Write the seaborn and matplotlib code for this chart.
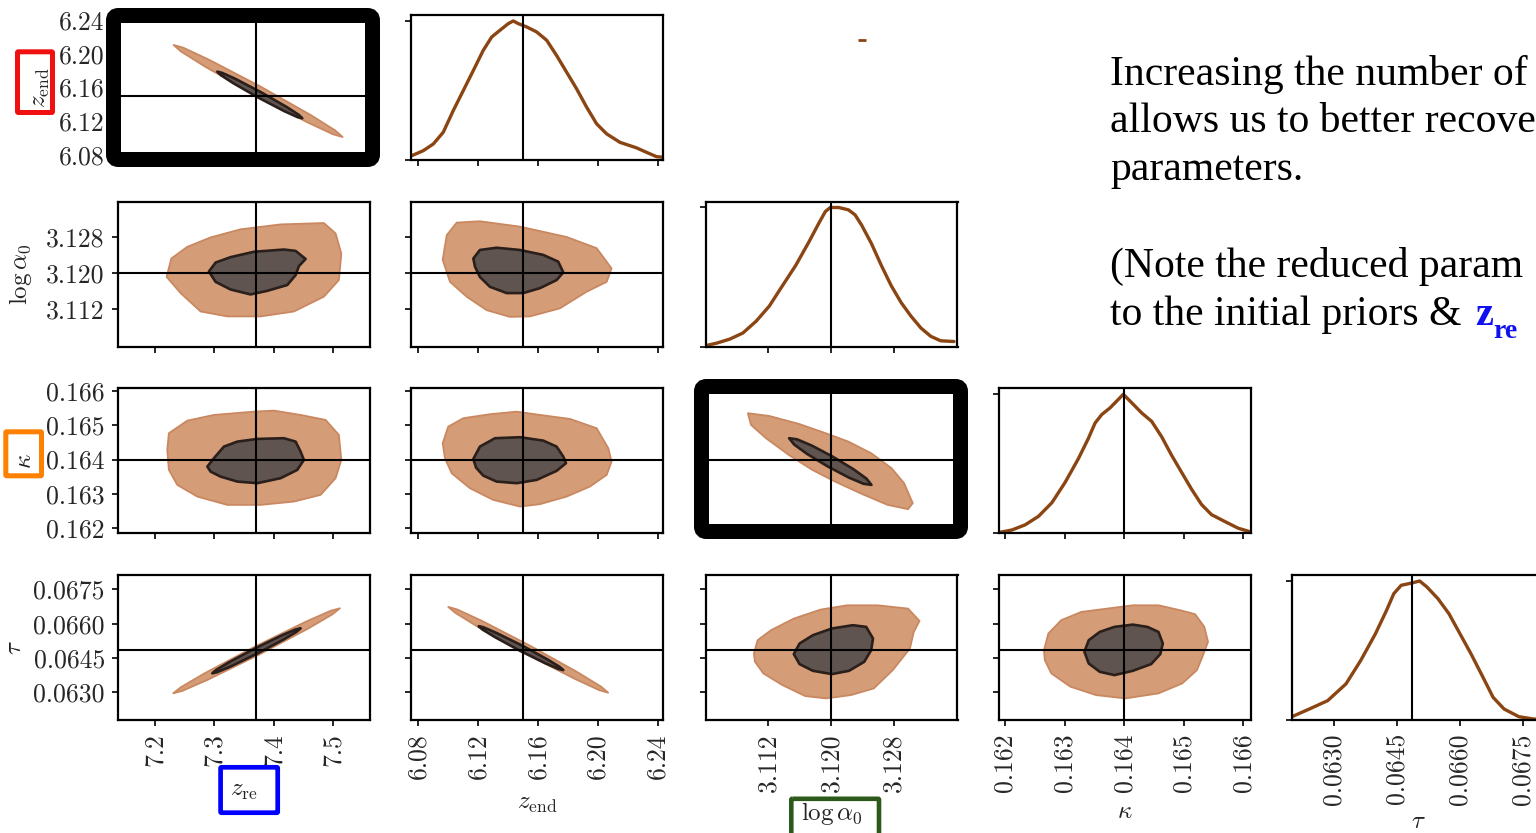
import seaborn as sns
import matplotlib.pyplot as plt
from matplotlib.patches import FancyBboxPatch

# ---- chart values ----------------------------------------------------------
LABELS = [r'$z_{\rm re}$', r'$z_{\rm end}$', r'$\log\alpha_0$', r'$\kappa$', r'$\tau$']
TRUTH = [7.37, 6.15, 3.12, 0.164, 0.06485]
TICKS = [[7.2, 7.3, 7.4, 7.5],
         [6.08, 6.12, 6.16, 6.20, 6.24],
         [3.112, 3.120, 3.128],
         [0.162, 0.163, 0.164, 0.165, 0.166],
         [0.0630, 0.0645, 0.0660, 0.0675]]
TICK_LABELS = [['7.2', '7.3', '7.4', '7.5'],
               ['6.08', '6.12', '6.16', '6.20', '6.24'],
               ['3.112', '3.120', '3.128'],
               ['0.162', '0.163', '0.164', '0.165', '0.166'],
               ['0.0630', '0.0645', '0.0660', '0.0675']]
XLIMS = [(7.138, 7.5615), (6.075, 6.2436), (3.104, 3.1361), (0.16189, 0.16612), (0.0620, 0.0680)]
YLIMS = [None, (6.0743, 6.2459), (3.1037, 3.1360), (0.16185, 0.16608), (0.061789, 0.068129)]

# 2D contours (95% outer, 68% inner), vertices in data units
ZRE_ZEND_OUTER = [(7.2314, 6.2104), (7.2474, 6.2073), (7.2914, 6.1928), (7.3775, 6.1612), (7.4619, 6.1275),
                  (7.5030, 6.1093), (7.5155, 6.1015), (7.4995, 6.1047), (7.4554, 6.1192), (7.3694, 6.1508),
                  (7.2850, 6.1845), (7.2439, 6.2027)]
ZRE_ZEND_INNER = [(7.3049, 6.1788), (7.3131, 6.1774), (7.3354, 6.1703), (7.3787, 6.1544), (7.4211, 6.1372),
                  (7.4416, 6.1278), (7.4477, 6.1237), (7.4395, 6.1251), (7.4172, 6.1322), (7.3739, 6.1481),
                  (7.3315, 6.1653), (7.3110, 6.1747)]

ZRE_LOGA_OUTER = [(7.2197, 3.1192), (7.2276, 3.1233), (7.2545, 3.1259), (7.2936, 3.1280), (7.3440, 3.1298),
                  (7.4113, 3.1309), (7.4840, 3.1312), (7.5037, 3.1289), (7.5133, 3.1244), (7.5092, 3.1185),
                  (7.4840, 3.1148), (7.4336, 3.1115), (7.3776, 3.1104), (7.3217, 3.1104), (7.2768, 3.1115),
                  (7.2432, 3.1156)]
ZRE_LOGA_INNER = [(7.2908, 3.1204), (7.3020, 3.1224), (7.3272, 3.1236), (7.3664, 3.1248), (7.4168, 3.1253),
                  (7.4365, 3.1250), (7.4533, 3.1232), (7.4420, 3.1216), (7.4365, 3.1196), (7.4225, 3.1174),
                  (7.3889, 3.1161), (7.3608, 3.1153), (7.3272, 3.1164), (7.3020, 3.1181)]

ZRE_KAPPA_OUTER = [(7.2208, 0.164283), (7.2235, 0.164770), (7.2545, 0.165137), (7.2992, 0.165303),
                   (7.3664, 0.165399), (7.4000, 0.165429), (7.4449, 0.165303), (7.4869, 0.165157),
                   (7.5092, 0.164720), (7.5133, 0.163991), (7.5037, 0.163458), (7.4785, 0.162971),
                   (7.4336, 0.162776), (7.3776, 0.162679), (7.3217, 0.162679), (7.2713, 0.162921),
                   (7.2376, 0.163262), (7.2235, 0.163700)]
ZRE_KAPPA_INNER = [(7.2881, 0.163796), (7.2992, 0.164041), (7.3160, 0.164379), (7.3385, 0.164525),
                   (7.3721, 0.164603), (7.4168, 0.164624), (7.4365, 0.164525), (7.4449, 0.164233),
                   (7.4504, 0.163991), (7.4393, 0.163700), (7.4113, 0.163458), (7.3721, 0.163312),
                   (7.3385, 0.163359), (7.3104, 0.163504), (7.2936, 0.163650)]

ZRE_TAU_OUTER = [(7.2309, 0.062956), (7.2464, 0.063065), (7.2897, 0.063559), (7.3744, 0.064639),
                 (7.4577, 0.065789), (7.4984, 0.066410), (7.5109, 0.066673), (7.4954, 0.066564),
                 (7.4522, 0.066070), (7.3675, 0.064990), (7.2842, 0.063840), (7.2434, 0.063219)]
ZRE_TAU_INNER = [(7.2965, 0.063831), (7.3048, 0.063881), (7.3279, 0.064137), (7.3728, 0.064706),
                 (7.4169, 0.065317), (7.4384, 0.065652), (7.4449, 0.065798), (7.4365, 0.065748),
                 (7.4135, 0.065492), (7.3685, 0.064923), (7.3244, 0.064312), (7.3030, 0.063977)]

ZEND_LOGA_OUTER = [(6.0962, 3.1230), (6.0989, 3.1285), (6.1056, 3.1313), (6.1211, 3.1316), (6.1479, 3.1304),
                   (6.1791, 3.1281), (6.1992, 3.1256), (6.2092, 3.1211), (6.2059, 3.1181), (6.1925, 3.1159),
                   (6.1746, 3.1122), (6.1546, 3.1104), (6.1412, 3.1103), (6.1256, 3.1118), (6.1122, 3.1148),
                   (6.1011, 3.1181)]
ZEND_LOGA_INNER = [(6.1167, 3.1233), (6.1211, 3.1252), (6.1323, 3.1257), (6.1479, 3.1252), (6.1635, 3.1241),
                   (6.1735, 3.1226), (6.1769, 3.1202), (6.1724, 3.1185), (6.1613, 3.1167), (6.1501, 3.1156),
                   (6.1390, 3.1156), (6.1278, 3.1170), (6.1211, 3.1192), (6.1178, 3.1215)]

ZEND_KAPPA_OUTER = [(6.0962, 0.164478), (6.0999, 0.164962), (6.1100, 0.165207), (6.1278, 0.165324),
                    (6.1457, 0.165399), (6.1613, 0.165303), (6.1813, 0.165187), (6.1992, 0.164915),
                    (6.2070, 0.164332), (6.2092, 0.163942), (6.2059, 0.163554), (6.1947, 0.163213),
                    (6.1791, 0.162921), (6.1613, 0.162700), (6.1479, 0.162630), (6.1300, 0.162825),
                    (6.1144, 0.163166), (6.1022, 0.163603), (6.0977, 0.164041)]
ZEND_KAPPA_INNER = [(6.1167, 0.164020), (6.1211, 0.164379), (6.1312, 0.164624), (6.1479, 0.164653),
                    (6.1635, 0.164554), (6.1724, 0.164379), (6.1769, 0.164087), (6.1787, 0.163895),
                    (6.1724, 0.163671), (6.1591, 0.163408), (6.1457, 0.163312), (6.1323, 0.163359),
                    (6.1233, 0.163534), (6.1185, 0.163767)]

ZEND_TAU_OUTER = [(6.0999, 0.066734), (6.1059, 0.066623), (6.1225, 0.066122), (6.1548, 0.065031),
                  (6.1866, 0.063871), (6.2022, 0.063246), (6.2069, 0.062983), (6.2009, 0.063094),
                  (6.1844, 0.063594), (6.1520, 0.064685), (6.1202, 0.065845), (6.1047, 0.066470)]
ZEND_TAU_INNER = [(6.1203, 0.065890), (6.1235, 0.065842), (6.1323, 0.065593), (6.1495, 0.065039),
                  (6.1662, 0.064442), (6.1744, 0.064114), (6.1769, 0.063971), (6.1737, 0.064019),
                  (6.1649, 0.064268), (6.1477, 0.064822), (6.1310, 0.065419), (6.1228, 0.065746)]

LOGA_KAPPA_OUTER = [(3.1094, 0.165353), (3.1121, 0.165274), (3.1159, 0.165041), (3.1193, 0.164770),
                    (3.1222, 0.164525), (3.1251, 0.164187), (3.1277, 0.163749), (3.1293, 0.163312),
                    (3.1304, 0.162729), (3.1298, 0.162554), (3.1272, 0.162679), (3.1239, 0.163000),
                    (3.1205, 0.163359), (3.1176, 0.163700), (3.1146, 0.164137), (3.1117, 0.164624),
                    (3.1098, 0.165012)]
LOGA_KAPPA_INNER = [(3.11465, 0.164624), (3.11567, 0.164591), (3.11757, 0.164406), (3.12023, 0.164083),
                    (3.12281, 0.163725), (3.12449, 0.163448), (3.12514, 0.163262), (3.12412, 0.163295),
                    (3.12222, 0.163480), (3.11955, 0.163803), (3.11697, 0.164161), (3.11530, 0.164438)]

LOGA_TAU_OUTER = [(3.11016, 0.064697), (3.11064, 0.065278), (3.11234, 0.065715), (3.11525, 0.066223),
                  (3.11865, 0.066616), (3.12204, 0.066804), (3.12592, 0.066804), (3.12980, 0.066660),
                  (3.13126, 0.066122), (3.13053, 0.065641), (3.13004, 0.064915), (3.12786, 0.063971),
                  (3.12544, 0.063171), (3.12253, 0.062878), (3.11937, 0.062733), (3.11671, 0.062834),
                  (3.11380, 0.063315), (3.11137, 0.063826), (3.11030, 0.064334)]
LOGA_TAU_INNER = [(3.11525, 0.064670), (3.11598, 0.065134), (3.11768, 0.065497), (3.12010, 0.065790),
                  (3.12277, 0.065934), (3.12447, 0.065860), (3.12534, 0.065352), (3.12510, 0.064841),
                  (3.12422, 0.064334), (3.12228, 0.063940), (3.12010, 0.063796), (3.11768, 0.063940),
                  (3.11598, 0.064233)]

KAPPA_TAU_OUTER = [(0.162653, 0.064841), (0.162727, 0.065571), (0.162943, 0.066153), (0.163281, 0.066516),
                   (0.163714, 0.066660), (0.164144, 0.066804), (0.164575, 0.066804), (0.164945, 0.066585),
                   (0.165191, 0.066415), (0.165345, 0.065860), (0.165407, 0.065208), (0.165313, 0.064552),
                   (0.165221, 0.063971), (0.164975, 0.063389), (0.164575, 0.062952), (0.164020, 0.062733),
                   (0.163528, 0.062878), (0.163097, 0.063245), (0.162777, 0.063826), (0.162667, 0.064408)]
KAPPA_TAU_INNER = [(0.163332, 0.064771), (0.163405, 0.065278), (0.163590, 0.065641), (0.163836, 0.065860),
                   (0.164144, 0.065960), (0.164390, 0.065860), (0.164575, 0.065641), (0.164648, 0.065134),
                   (0.164606, 0.064670), (0.164452, 0.064233), (0.164144, 0.063940), (0.163836, 0.063752),
                   (0.163590, 0.063896), (0.163405, 0.064259)]

# 1D marginals (normalised to peak = 1)
ZEND_GRID = [6.0755, 6.0832, 6.0899, 6.0966, 6.1033, 6.1100, 6.1167, 6.1233, 6.1290, 6.1345, 6.1401, 6.1434,
             6.1468, 6.1524, 6.1591, 6.1658, 6.1724, 6.1791, 6.1858, 6.1925, 6.1992, 6.2059, 6.2148, 6.2260,
             6.2326, 6.2393, 6.2449]
ZEND_PDF = [0.031, 0.067, 0.115, 0.200, 0.356, 0.500, 0.644, 0.788, 0.885, 0.933, 0.981, 1.0, 0.981, 0.957,
            0.921, 0.861, 0.752, 0.632, 0.512, 0.380, 0.260, 0.188, 0.127, 0.087, 0.055, 0.024, 0.019]
LOGA_GRID = [3.10394, 3.10541, 3.10709, 3.10876, 3.11045, 3.11213, 3.11380, 3.11549, 3.11717, 3.11843,
             3.11927, 3.11990, 3.12095, 3.12221, 3.12305, 3.12388, 3.12514, 3.12640, 3.12766, 3.12892,
             3.13018, 3.13144, 3.13270, 3.13396, 3.13565]
LOGA_PDF = [0.005, 0.024, 0.053, 0.097, 0.182, 0.291, 0.437, 0.583, 0.752, 0.886, 0.971, 1.0, 1.0, 0.983,
            0.947, 0.874, 0.740, 0.583, 0.437, 0.316, 0.218, 0.133, 0.073, 0.041, 0.036]
KAPPA_GRID = [0.161891, 0.162116, 0.162338, 0.162561, 0.162786, 0.163008, 0.163231, 0.163399, 0.163511,
              0.163623, 0.163762, 0.163874, 0.163985, 0.164126, 0.164293, 0.164461, 0.164628, 0.164796,
              0.164963, 0.165131, 0.165298, 0.165466, 0.165688, 0.165911, 0.166107]
KAPPA_PDF = [0.005, 0.024, 0.061, 0.122, 0.220, 0.366, 0.537, 0.683, 0.793, 0.854, 0.902, 0.951, 1.0,
             0.939, 0.866, 0.805, 0.695, 0.561, 0.439, 0.317, 0.207, 0.134, 0.085, 0.037, 0.012]
TAU_GRID = [0.06200, 0.062412, 0.062848, 0.063286, 0.063636, 0.063986, 0.064250, 0.064424, 0.064600,
            0.064862, 0.065038, 0.065212, 0.065474, 0.065738, 0.066000, 0.066262, 0.066526, 0.066788,
            0.067050, 0.067400, 0.067750, 0.068000]
TAU_PDF = [0.024, 0.079, 0.139, 0.260, 0.428, 0.620, 0.788, 0.909, 0.969, 0.986, 1.0, 0.957, 0.873, 0.764,
           0.620, 0.476, 0.320, 0.163, 0.079, 0.024, 0.007, 0.004]

TEXT_LINES = ['Increasing the number of', 'allows us to better recove', 'parameters.', '',
              '(Note the reduced param', 'to the initial priors & ']

# ---- lookups built from the lists above --------------------------------------
CONTOURS = {
    (0, 1): (ZRE_ZEND_OUTER, ZRE_ZEND_INNER),
    (0, 2): (ZRE_LOGA_OUTER, ZRE_LOGA_INNER),
    (1, 2): (ZEND_LOGA_OUTER, ZEND_LOGA_INNER),
    (0, 3): (ZRE_KAPPA_OUTER, ZRE_KAPPA_INNER),
    (1, 3): (ZEND_KAPPA_OUTER, ZEND_KAPPA_INNER),
    (2, 3): (LOGA_KAPPA_OUTER, LOGA_KAPPA_INNER),
    (0, 4): (ZRE_TAU_OUTER, ZRE_TAU_INNER),
    (1, 4): (ZEND_TAU_OUTER, ZEND_TAU_INNER),
    (2, 4): (LOGA_TAU_OUTER, LOGA_TAU_INNER),
    (3, 4): (KAPPA_TAU_OUTER, KAPPA_TAU_INNER),
}
MARGINALS = {1: (ZEND_GRID, ZEND_PDF), 2: (LOGA_GRID, LOGA_PDF),
             3: (KAPPA_GRID, KAPPA_PDF), 4: (TAU_GRID, TAU_PDF)}

# ---- style -------------------------------------------------------------------
sns.set_style('ticks')
plt.rcParams['font.family'] = ['cmr10', 'DejaVu Serif']
plt.rcParams['mathtext.fontset'] = 'cm'
plt.rcParams['axes.formatter.use_mathtext'] = True

OUTER_FC, OUTER_EC = '#d59c78', '#c98860'
INNER_FC, INNER_EC = '#5f5450', '#2a1f1a'
LINE_C = '#8b4513'

W, H = 1536, 833
COL_X = [118, 411, 705.5, 998.5, 1292]
ROW_Y = [15, 201.5, 388.3, 575]
PW, PH = 252, 145
YLABEL_X = [-0.262, -0.333, -0.325, -0.367]
XLABEL_Y = [-0.41, -0.50, -0.55, -0.56, -0.63]

fig = plt.figure(figsize=(W / 100, H / 100), dpi=100)


def add_panel(x0, y0):
    return fig.add_axes([x0 / W, 1 - (y0 + PH) / H, PW / W, PH / H])


def style(ax):
    for s in ax.spines.values():
        s.set_linewidth(1.6)
        s.set_color('black')
    ax.tick_params(direction='out', length=4.5, width=1.2, labelsize=18.5, pad=5,
                   top=False, right=False, color='black')


for r in range(4):
    yi = r + 1
    for c in range(yi + 1):
        ax = add_panel(COL_X[c], ROW_Y[r])
        style(ax)
        if c == yi:
            grid, pdf = MARGINALS[yi]
            sns.lineplot(x=grid, y=pdf, ax=ax, color=LINE_C, lw=2.4, sort=False,
                         solid_joinstyle='round', solid_capstyle='round')
            ax.axvline(TRUTH[c], color='black', lw=1.5, zorder=5)
            ax.set_ylim(0, 1.043)
            ax.set_yticks([0, 1], ['', ''])
        else:
            outer, inner = CONTOURS[(c, yi)]
            ox, oy = zip(*outer)
            ix, iy = zip(*inner)
            ax.fill(ox, oy, fc=OUTER_FC, ec=OUTER_EC, lw=1.3, joinstyle='round', zorder=2)
            ax.fill(ix, iy, fc=INNER_FC, ec=INNER_EC, lw=1.9, joinstyle='round', zorder=3)
            ax.axvline(TRUTH[c], color='black', lw=1.5, zorder=5)
            ax.axhline(TRUTH[yi], color='black', lw=1.5, zorder=5)
            ax.set_ylim(*YLIMS[yi])
            if c == 0:
                ax.set_yticks(TICKS[yi], TICK_LABELS[yi])
                ax.set_ylabel(LABELS[yi], fontsize=18)
                ax.yaxis.set_label_coords(YLABEL_X[r], 0.5)
            else:
                ax.set_yticks(TICKS[yi], [''] * len(TICKS[yi]))
        ax.set_xlim(*XLIMS[c])
        if r == 3:
            ax.set_xticks(TICKS[c], TICK_LABELS[c], rotation=90)
            ax.set_xlabel(LABELS[c], fontsize=18)
            ax.xaxis.set_label_coords(0.5, XLABEL_Y[c])
        else:
            ax.set_xticks(TICKS[c], [''] * len(TICKS[c]))

# ---- slide annotations (pixel space overlay) ---------------------------------
ov = fig.add_axes([0, 0, 1, 1], zorder=10)
ov.set_xlim(0, W)
ov.set_ylim(H, 0)
ov.axis('off')
ov.patch.set_visible(False)


def box(x0, y0, x1, y1, color, lw_px, rad):
    ov.add_patch(FancyBboxPatch((x0, y0), x1 - x0, y1 - y0,
                                boxstyle=f'round,pad=0,rounding_size={rad}',
                                fc='none', ec=color, lw=lw_px * 0.72))


box(113.5, 15.5, 372.5, 159.5, 'black', 15, 5)
box(701.5, 386.5, 960.5, 531.5, 'black', 15, 5)
box(17.5, 51.8, 52.5, 112.5, '#f01010', 5, 1)
box(5.8, 431.8, 41.5, 475.8, '#ff8000', 5, 1)
box(220.6, 767.3, 277.7, 812.7, '#0000ff', 4.7, 1)
box(791.3, 798.8, 879.0, 840.0, '#2d5a1b', 4.6, 1)
ov.plot([858, 866], [40, 40], color=LINE_C, lw=2, solid_capstyle='butt')

baselines = [85, 132, 180, 228, 277, 325]
for txt, yb in zip(TEXT_LINES, baselines):
    if txt:
        ov.text(1110.5, yb, txt, fontsize=30, family='Liberation Serif', va='baseline', ha='left', color='black')
ov.text(1475, 325, 'z', fontsize=29, family='Liberation Serif', weight='bold', color='#1010f0',
        va='baseline', ha='left')
ov.text(1493, 338, 're', fontsize=20, family='Liberation Serif', weight='bold', color='#1010f0',
        va='baseline', ha='left')

fig.savefig('out.png', dpi=100)
